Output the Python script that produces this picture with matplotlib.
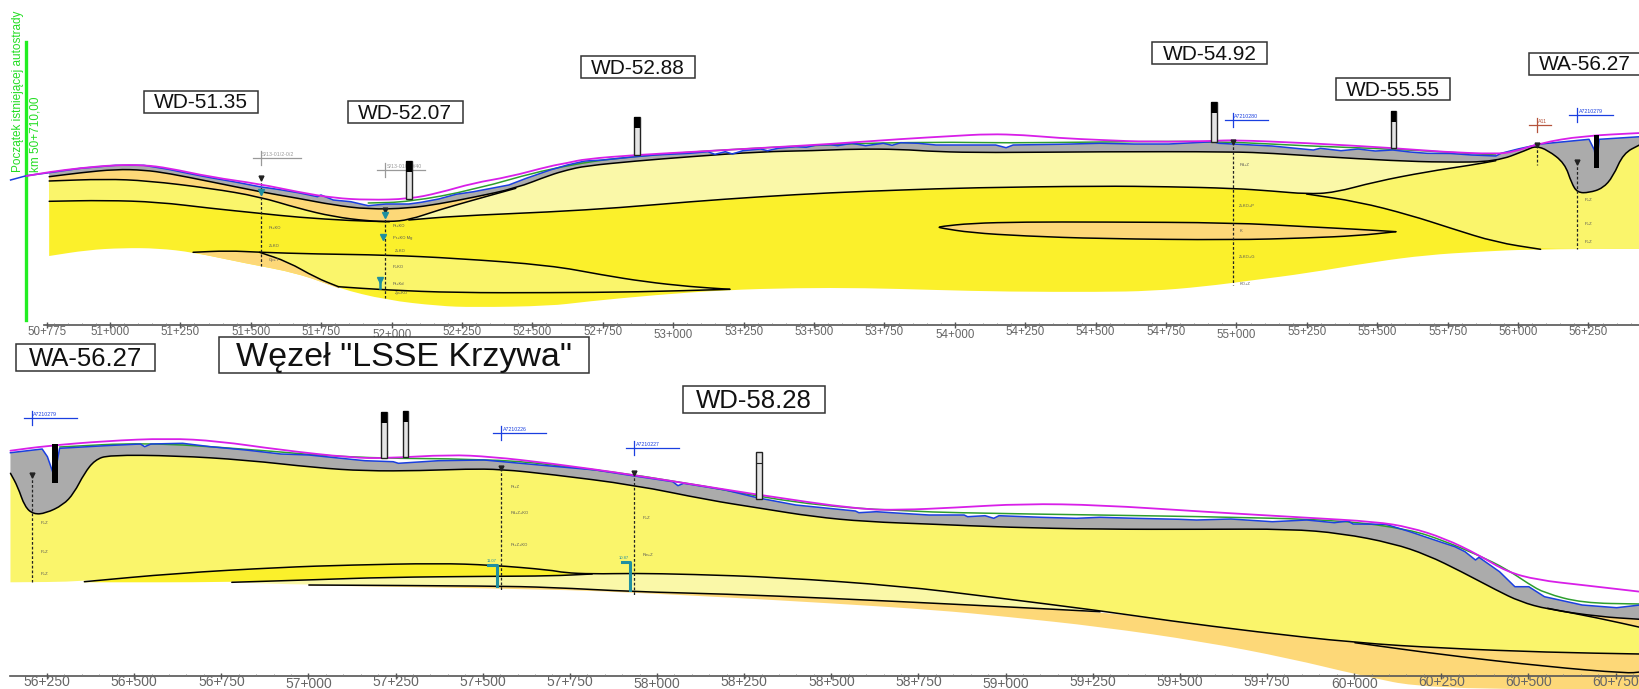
#!/usr/bin/env python3
"""Geological long section of the motorway, km 50+775 to 60+750, in two strips"""

import numpy as np
import matplotlib
matplotlib.use('Agg')
import matplotlib.pyplot as plt
from matplotlib.patches import PathPatch
from matplotlib.path import Path

plt.rcParams['font.family'] = ['Liberation Sans', 'DejaVu Sans']

BRIGHT = '#FBF02B'
MEDIUM = '#FAF56B'
PALE = '#FAF8A8'
ORANGE = '#FDD878'
GREY = '#ABABAB'
BLUE = '#1A3FE0'
GREEN = '#2E9E2E'
MAGENTA = '#D81FE8'
TEAL = '#1F8FA0'

# ---- upper strip: chainage in metres, level read as picture rows ----
TOP_DESIGN_X = [50703, 50784, 50896, 51020, 51120, 51207, 51357, 51531, 51668, 51793, 51917, 52061,
                52167, 52291, 52416, 52563, 52624, 52687, 52867, 53060, 53310, 53559, 53808, 53995,
                54120, 54244, 54369, 54516, 54698, 54919, 54986, 55249, 55555, 55738, 55921, 55983,
                56080, 56227, 56433]
TOP_DESIGN_Y = [176, 172, 168, 165, 165, 168, 177, 184, 192, 198, 200, 199,
                193, 183, 177, 166, 163, 159, 155, 152, 148, 144, 139, 136,
                134, 135, 138, 140, 142, 141, 140, 143, 148, 152, 154, 152,
                143, 136, 133]

TOP_GROUND_X = [50647, 50703, 50784, 50896, 51020, 51120, 51207, 51280, 51357, 51445, 51531, 51600, 51668, 51737, 51749,
                51793, 51855, 51917, 51980, 52061, 52105, 52167, 52229, 52291, 52416, 52478, 52563,
                52624, 52687, 52749, 52867, 52936, 53060, 53123, 53148, 53185, 53210, 53247, 53310,
                53335, 53372, 53434, 53472, 53509, 53559, 53584, 53634, 53683, 53746, 53777, 53808,
                53870, 53933, 54057, 54145, 54182, 54207, 54369, 54516, 54637, 54760, 54919, 54937,
                55127, 55200, 55273, 55298, 55371, 55432, 55493, 55555, 55616, 55677, 55760, 55836, 55921, 55940, 56000, 56080, 56252, 56271,
                56279, 56288, 56433]
TOP_GROUND_Y = [180, 175.7, 172.7, 168.3, 165.3, 165.3, 169.3, 173.5, 177.7, 182, 186.7, 189.5, 192.7, 196.7, 195,
                200, 201.7, 205.7, 204, 204, 202.3, 199, 194.3, 191.7, 185, 178.3, 170,
                165, 161, 160, 156.7, 155, 153.3, 151.7, 154.3, 151.7, 154, 150.7, 149,
                150.7, 148.3, 146.7, 147.3, 145, 144.7, 145.7, 143.3, 145.7, 143.3, 145.3, 142.7,
                143.3, 145, 145, 145, 147.7, 145, 144.3, 143.3, 144, 144, 141.7, 143.3,
                146, 148, 150, 148.3, 150.7, 149, 151, 150, 152, 153.3, 153.5, 155, 156, 153.3, 149, 144, 139.3, 150,
                166, 139.3, 136.7]

TOP_GREEN_X = [51917, 52061, 52291, 52563, 52867, 53560, 53933, 54182, 54516, 54919, 55249, 55555, 55921]
TOP_GREEN_Y = [203, 202, 190, 168, 155, 144, 142, 143, 142, 141, 146, 149, 155]

TOP_FILL_X = [50784, 50896, 51020, 51120, 51207, 51357, 51531, 51668, 51793, 51917, 52061, 52167,
              52291, 52441, 52563, 52624, 52687, 52867, 53060, 53310, 53497, 53646, 53808, 53933,
              54120, 54516, 54986, 55127, 55310, 55555, 55738, 55921, 56031, 56062, 56105, 56166,
              56190, 56211, 56252, 56301, 56337, 56374, 56433]
TOP_FILL_Y = [176.7, 172.7, 169.3, 170, 173.3, 181.7, 191.7, 198.3, 205, 209.3, 208.3, 204,
              197.3, 188.3, 175, 170, 166, 161, 156.7, 151.7, 150.7, 149, 149.3, 151.7,
              152.7, 151.7, 151.7, 153.3, 156.7, 160.7, 162.3, 161.7, 150, 146, 150, 163.3,
              183.3, 192.7, 192.7, 188.3, 176.7, 153.3, 144.7]

TOP_SAND_X = [50784, 50983, 51133, 51357, 51531, 51668, 51793, 51917, 51992, 52061, 52167, 52291, 52441]
TOP_SAND_Y = [181, 179, 180.7, 188.3, 196.7, 208.3, 216.7, 221, 221.7, 220, 210, 200, 188.3]

TOP_LEFT_LAYER_X = [50784, 50983, 51170, 51357, 51531, 51668, 51855, 51992]
TOP_LEFT_LAYER_Y = [201.3, 200.3, 202, 208.3, 213.3, 217.3, 220.7, 221.7]

TOP_PALE_X = [52061, 52229, 52563, 52811, 53060, 53310, 53559, 53808, 54057, 54516, 54760, 54986,
              55127, 55249, 55347, 55493, 55677, 55836, 55921]
TOP_PALE_Y = [220, 216, 212, 207.7, 201.7, 196.7, 192.7, 190, 187.7, 186, 186.7, 188.3,
              191, 194, 192.7, 181.7, 171.7, 165, 160.7]

TOP_RIGHT_LAYER_X = [55249, 55432, 55616, 55762, 55921, 56080, 56433]
TOP_RIGHT_LAYER_Y = [194, 201.7, 215, 228.3, 242.3, 249.3, 248.7]

TOP_BASE_X = [50784, 50921, 51045, 51170, 51295, 51481, 51668, 51811, 51980, 52167, 52291, 52563,
              52687, 52936, 53185, 53434, 53683, 53933, 54182, 54516, 54698, 54882, 55065, 55249,
              55493, 55677, 55860, 56044, 56433]
TOP_BASE_Y = [256, 250, 248, 248.3, 252.3, 263.3, 273.3, 288.3, 300, 306, 307.3, 306,
              301.7, 295, 290, 288, 288, 290, 291.7, 292, 291, 286.7, 280, 273.3,
              261.7, 255, 251.7, 249.3, 248.7]

TOP_WEDGE_UP_X = [51295, 51419, 51531, 51731, 51980, 52229, 52563, 52749, 52898, 53060, 53201]
TOP_WEDGE_UP_Y = [252.3, 250.7, 252.3, 254, 255, 258.3, 265.3, 275, 281.7, 286.7, 289.3]
TOP_WEDGE_LOW_X = [51811, 51980, 52229, 52563, 52874, 53201]
TOP_WEDGE_LOW_Y = [286.7, 290, 292.7, 292.7, 292, 289.3]
TOP_WEDGE_EDGE_X = [51531, 51631, 51731, 51811]
TOP_WEDGE_EDGE_Y = [252.3, 261.7, 277.7, 286.7]

LENS_UP_X = [53945, 53950, 54057, 54244, 54516, 54986, 55249, 55432, 55566]
LENS_UP_Y = [227.3, 226.5, 223.3, 222, 222, 222.7, 226.7, 229.3, 231.7]
LENS_LOW_X = [53945, 53950, 54057, 54244, 54516, 54986, 55249, 55432, 55566]
LENS_LOW_Y = [227.3, 228, 232.7, 236, 238.7, 240, 238, 235.7, 231.7]

# ---- lower strip ----
LOW_DESIGN_X = [56145, 56246, 56417, 56598, 56739, 56921, 57122, 57222, 57404, 57524, 57694, 57935,
                58292, 58579, 58700, 58851, 59052, 59271, 59567, 59864, 60061, 60160, 60259, 60358,
                60437, 60526, 60654, 60820]
LOW_DESIGN_Y = [450.7, 446, 441, 438.3, 441, 450, 457.7, 458.3, 454.7, 456.7, 463.3, 475,
                495, 509.3, 510, 507.7, 503.7, 505, 511.7, 517.7, 521.7, 527.3, 538.3, 555,
                571.7, 580, 585, 591.7]

LOW_GROUND_X = [56145, 56236, 56251, 56271, 56286, 56417, 56518, 56530, 56548, 56639, 56719, 56820,
                56921, 57001, 57122, 57162, 57243, 57258, 57373, 57504, 57694, 57824, 57935, 58045,
                58060, 58076, 58196, 58287, 58398, 58569, 58579, 58629, 58700, 58780, 58881, 58891,
                58941, 58966, 58981, 59102, 59203, 59271, 59370, 59498, 59548, 59646, 59765, 59864,
                59943, 59982, 59997, 60091, 60160, 60259, 60289, 60318, 60348, 60358, 60417, 60461,
                60501, 60546, 60654, 60753, 60820]
LOW_GROUND_Y = [452.7, 449, 456.7, 476.7, 448.3, 445.7, 444, 446.7, 444, 443.3, 446.7, 450,
                454, 455, 459.3, 460.7, 461.7, 463.3, 460.7, 460, 466, 470, 476, 481.7,
                485.7, 483.3, 490, 497.7, 505, 511, 512.7, 511.7, 513.3, 515, 515, 516.7,
                515.7, 518.3, 515.7, 517.3, 518.3, 517.3, 518.3, 519.3, 520, 519, 521.7, 520,
                522.7, 521, 524, 524.3, 531.7, 543.3, 546.7, 551.7, 560, 557.3, 571.7, 586.7,
                586.7, 596.7, 605, 607.7, 605]

LOW_GREEN_X = [56286, 56530, 56820, 57122, 57504, 57694, 58045, 58398, 58700, 59052, 59567, 59963, 60160, 60259,
               60358, 60437, 60501, 60546, 60654, 60820]
LOW_GREEN_Y = [447, 442.5, 449, 458, 459, 464, 480, 503.5, 511.5, 514, 516.5, 520, 529.5, 541,
               555.5, 569, 584, 593, 603, 604]

LOW_FILL_X = [56145, 56166, 56186, 56211, 56246, 56296, 56327, 56357, 56387, 56427, 56619, 56820,
              57021, 57162, 57323, 57454, 57553, 57694, 57935, 58146, 58297, 58448, 58599, 58800,
              59002, 59271, 59567, 59814, 59963, 60111, 60210, 60308, 60407, 60476, 60555, 60704,
              60820]
LOW_FILL_Y = [473.3, 486.7, 506.7, 514.3, 513.3, 505, 493.3, 473.3, 460, 455, 455.7, 460,
              467.7, 471, 470.7, 469, 469.3, 474.3, 485, 500, 508.3, 516.7, 521.7, 524.3,
              527.3, 529.3, 529.3, 529, 533.3, 543.3, 555, 571.7, 590, 601.7, 609.3, 616.7,
              619.3]

LOW_LINE_A_X = [56357, 56619, 56921, 57122, 57373, 57524, 57694, 57733, 57814, 57935, 58096, 58347,
                58700, 58951, 59271, 59469, 59716, 60002, 60259, 60555, 60820]
LOW_LINE_A_Y = [581.7, 573.3, 567.3, 565, 563.3, 565, 570, 572.7, 574, 573.3, 574.3, 577.3,
                586, 596.7, 610.7, 620.7, 631.7, 642.7, 648.3, 652.3, 654]

LOW_LINE_B_X = [56780, 57021, 57222, 57524, 57694, 57814]
LOW_LINE_B_Y = [582.3, 579.7, 577.3, 576.3, 576, 574]

LOW_LINE_C_X = [57001, 57524, 57694, 57935, 58196, 58498, 58901, 59271]
LOW_LINE_C_Y = [585, 586, 587.3, 591.7, 594, 598.3, 605, 611.7]

LOW_LINE_D_X = [60002, 60259, 60555, 60783, 60820]
LOW_LINE_D_Y = [642.7, 655, 666.7, 673.3, 672]

LOW_LINE_E_X = [60555, 60704, 60820]
LOW_LINE_E_Y = [608.3, 618.3, 627.3]

LOW_SAND_BASE_X = [57001, 57693, 57935, 58196, 58498, 58800, 59002, 59271, 59567, 59814, 60012, 60210, 60820]
LOW_SAND_BASE_Y = [585.5, 589.3, 592.7, 597.3, 603.3, 610, 616.7, 626.7, 641.7, 658.3, 675, 689, 689]

# ---- things along the section ----
TOP_TICKS = [50775, 51000, 51250, 51500, 51750, 52000, 52250, 52500, 52750, 53000, 53250, 53500,
             53750, 54000, 54250, 54500, 54750, 55000, 55250, 55500, 55750, 56000, 56250]
TOP_TICK_LABELS = ['50+775', '51+000', '51+250', '51+500', '51+750', '52+000', '52+250', '52+500',
                   '52+750', '53+000', '53+250', '53+500', '53+750', '54+000', '54+250', '54+500',
                   '54+750', '55+000', '55+250', '55+500', '55+750', '56+000', '56+250']
TOP_LOW_LABELS = ['52+000', '53+000', '54+000', '55+000']

LOW_TICKS = [56250, 56500, 56750, 57000, 57250, 57500, 57750, 58000, 58250, 58500, 58750, 59000,
             59250, 59500, 59750, 60000, 60250, 60500, 60750]
LOW_TICK_LABELS = ['56+250', '56+500', '56+750', '57+000', '57+250', '57+500', '57+750', '58+000',
                   '58+250', '58+500', '58+750', '59+000', '59+250', '59+500', '59+750', '60+000',
                   '60+250', '60+500', '60+750']
LOW_LOW_LABELS = ['57+000', '58+000', '59+000', '60+000']

TOP_BOX_NAMES = ['WD-51.35', 'WD-52.07', 'WD-52.88', 'WD-54.92', 'WD-55.55', 'WA-56.27']
TOP_BOX_X = [51323, 52048, 52875, 54904, 55556, 56238]
TOP_BOX_Y = [103, 113.7, 68, 54, 90, 65]

LOW_BOX_NAMES = ['WA-56.27', 'WD-58.28']
LOW_BOX_X = [56359, 58278]
LOW_BOX_Y = [359, 401]

TOP_POLES_X = [52061, 52872, 54921, 55558]
TOP_POLES_TOP = [161, 117.3, 102.3, 110.7]
TOP_POLES_FOOT = [199, 155, 141.7, 148.3]
LOW_POLES_X = [57216, 57278, 58293]
LOW_POLES_TOP = [411.7, 410.7, 451.7]
LOW_POLES_FOOT = [457.7, 457.3, 499.3]

TOP_HOLES_X = [51535, 51976, 54986, 56066, 56211]
TOP_HOLES_TOP = [178.3, 210, 141.7, 145, 161.7]
TOP_HOLES_FOOT = [265.7, 298.3, 285, 165, 249.3]
LOW_HOLES_X = [56206, 57553, 57935]
LOW_HOLES_TOP = [475, 468.3, 472.7]
LOW_HOLES_FOOT = [582.3, 590, 595]

TOP_WATER_X = [51535, 51976, 51968, 51958]
TOP_WATER_Y = [192, 215, 237, 280]

TOP_MARK_X = [51535, 51976, 54986, 56066, 56211]
TOP_MARK_Y = [157.5, 170, 120, 125, 115]
TOP_MARK_NAMES = ['S/13-01/2-0/2', 'S/13-01/2-0/40', 'A7210280', 'A11', 'A7210279']
TOP_MARK_COLORS = ['#999999', '#999999', BLUE, '#B5533C', BLUE]
TOP_MARK_RIGHT = [40, 40, 36, 14, 36]

LOW_MARK_X = [56206, 57553, 57935]
LOW_MARK_Y = [417.5, 432.5, 447.5]
LOW_MARK_NAMES = ['A7210279', 'A7210226', 'A7210227']

TOP_SOILS = ['Pr+KO', 'Z+KO', 'Gp+T', 'Pr+KO', 'Pr+KO Mg', 'Z+KO', 'P+KO', 'Pr+Kd', 'Zp+KO', 'Pd+Z',
             'Z+KO+P', 'K', 'Z+KO+G', 'KO+Z', 'P+Z', 'P+Z', 'P+Z']
TOP_SOILS_X = [51565, 51565, 51565, 52005, 52005, 52010, 52005, 52005, 52010, 55010,
               55010, 55010, 55010, 55010, 56235, 56235, 56235]
TOP_SOILS_Y = [227.7, 246.3, 260, 226, 237.7, 250.7, 267.3, 284.3, 292.7, 165,
               206, 231, 256.7, 284, 200.3, 224.3, 242.3]

LOW_SOILS = ['P+Z', 'P+Z', 'P+Z', 'Pr+Z', 'Pd+Z+KO', 'Pr+Z+KO', 'P+Z', 'Pw+Z']
LOW_SOILS_X = [56232, 56232, 56232, 57580, 57580, 57580, 57960, 57960]
LOW_SOILS_Y = [523, 552.3, 574.3, 486.7, 513.3, 545, 517.7, 555]


def curve_parts(x, y):
    """Path vertices and codes that use the read points as quadratic control points"""
    pts = np.column_stack([x, y])
    n = len(pts)
    if n < 3:
        return list(pts), [Path.MOVETO] + [Path.LINETO] * (n - 1)
    mids = (pts[:-1] + pts[1:]) / 2
    verts = [pts[0], mids[0]]
    codes = [Path.MOVETO, Path.LINETO]
    for i in range(1, n - 1):
        verts += [pts[i], mids[i]]
        codes += [Path.CURVE3, Path.CURVE3]
    verts.append(pts[-1])
    codes.append(Path.LINETO)
    return verts, codes


def band(ax, x_top, y_top, x_low, y_low, color, zorder=1, raw_top=False):
    """Fill the layer between an upper and a lower boundary"""
    if raw_top:
        v1 = list(np.column_stack([x_top, y_top]))
        c1 = [Path.MOVETO] + [Path.LINETO] * (len(v1) - 1)
    else:
        v1, c1 = curve_parts(x_top, y_top)
    v2, c2 = curve_parts(np.asarray(x_low)[::-1], np.asarray(y_low)[::-1])
    c2 = [Path.LINETO] + c2[1:]
    verts = v1 + v2 + [v1[0]]
    codes = c1 + c2 + [Path.CLOSEPOLY]
    ax.add_patch(PathPatch(Path(verts, codes), fc=color, lw=0, zorder=zorder))


def span(x, y, start, stop):
    """Part of a curve between two chainages"""
    x = np.asarray(x)
    y = np.asarray(y)
    keep = (x >= start) & (x <= stop)
    return x[keep], y[keep]


def curve_line(ax, x, y, color='black', lw=1.1, zorder=4):
    verts, codes = curve_parts(x, y)
    ax.add_patch(PathPatch(Path(verts, codes), fc='none', ec=color, lw=lw, zorder=zorder, capstyle='round'))


def surface_lines(ax, design_x, design_y, ground_x, ground_y, green_x, green_y):
    curve_line(ax, green_x, green_y, GREEN, 1.1, 5)
    ax.plot(ground_x, ground_y, color=BLUE, lw=1.1, zorder=6)
    curve_line(ax, design_x, design_y, MAGENTA, 1.3, 7)


def poles(ax, x, top, foot, width, black_cap=True):
    top = np.asarray(top)
    foot = np.asarray(foot)
    ax.bar(x, foot - top, bottom=top, width=width, color='#E4E4E4', edgecolor='#222222', lw=1, zorder=8)
    if black_cap:
        ax.bar(x, np.full(len(top), 11.0), bottom=top, width=width, color='black', lw=0, zorder=9)


def holes(ax, x, top, foot):
    ax.vlines(x, top, foot, colors='#222222', linestyles=(0, (2.2, 1.6)), lw=0.9, zorder=6)
    ax.plot(x, top, 'v', color='#222222', ms=3.5, zorder=7, ls='none')


def survey_marks(ax, x, y, names, colors, right, m_per_px):
    for xi, yi, name, col, r in zip(x, y, names, colors, right):
        ax.plot([xi, xi], [yi - 7, yi + 7], color=col, lw=0.9, zorder=6)
        ax.plot([xi - 8 * m_per_px, xi + r * m_per_px], [yi, yi], color=col, lw=0.9, zorder=6)
        ax.text(xi + 1.5 * m_per_px, yi - 0.8, name, color=col, fontsize=3.8, va='bottom', ha='left', zorder=6)


def wide_box(x0, y0, width, height, mutation_size):
    """Label frame: wide at the sides, tight below the text, a bit more room above"""
    pad_x = 0.5 * mutation_size
    x0, x1 = x0 - pad_x, x0 + width + pad_x
    y0, y1 = y0 - 0.01 * mutation_size, y0 + height + 0.13 * mutation_size
    return Path([(x0, y0), (x1, y0), (x1, y1), (x0, y1), (x0, y0)], closed=True)


def boxes(ax, x, y, names, size):
    for xi, yi, name in zip(x, y, names):
        ax.text(xi, yi, name, fontsize=size, ha='center', va='center', color='#111111', zorder=10,
                bbox=dict(boxstyle=wide_box, fc='white', ec='#333333', lw=1.1))


def station_axis(ax, ticks, labels, low_labels, axis_y, start, size, pads):
    stop = ax.get_xlim()[1]
    ax.set_axisbelow(False)
    ax.spines['bottom'].set_position(('data', axis_y))
    ax.spines['bottom'].set_bounds(start, stop)
    ax.spines['bottom'].set_color('#555555')
    ax.spines['bottom'].set_linewidth(1.2)
    ax.set_xticks(ticks)
    ax.set_xticklabels(labels, fontsize=size, color='#666666')
    ax.set_xticks(np.arange(ticks[0] - ticks[0] % 50 + 50, stop, 50), minor=True)
    ax.tick_params(axis='x', which='major', direction='inout', length=4, width=1, color='#555555')
    ax.tick_params(axis='x', which='minor', direction='in', length=1.5, width=0.6, color='#777777')
    for tick, label in zip(ax.xaxis.get_major_ticks(), labels):
        tick.set_pad(pads[1] if label in low_labels else pads[0])


def draw_upper(ax):
    ax.set_xlim(50609.4, 56433)
    ax.set_ylim(340, 0)

    # layers, back to front
    band(ax, TOP_FILL_X, TOP_FILL_Y, TOP_BASE_X, TOP_BASE_Y, BRIGHT)

    sx, sy = span(TOP_SAND_X, TOP_SAND_Y, 50784, 51992)
    band(ax, sx, sy, TOP_LEFT_LAYER_X, TOP_LEFT_LAYER_Y, MEDIUM, 2)

    fx, fy = span(TOP_FILL_X, TOP_FILL_Y, 52061, 55921)
    band(ax, fx, fy, TOP_PALE_X, TOP_PALE_Y, PALE, 2)

    bx, by = span(TOP_PALE_X, TOP_PALE_Y, 55249, 55921)
    fx, fy = span(TOP_FILL_X, TOP_FILL_Y, 55922, 56433)
    band(ax, np.r_[bx, fx], np.r_[by, fy], TOP_RIGHT_LAYER_X, TOP_RIGHT_LAYER_Y, MEDIUM, 2)

    fx, fy = span(TOP_FILL_X, TOP_FILL_Y, 50784, 52441)
    band(ax, fx, fy, TOP_SAND_X, TOP_SAND_Y, ORANGE, 3)

    band(ax, TOP_WEDGE_UP_X[2:], TOP_WEDGE_UP_Y[2:], TOP_WEDGE_EDGE_X + TOP_WEDGE_LOW_X[1:],
         TOP_WEDGE_EDGE_Y + TOP_WEDGE_LOW_Y[1:], MEDIUM, 2)
    bx, by = span(TOP_BASE_X, TOP_BASE_Y, 51295, 51811)
    band(ax, TOP_WEDGE_UP_X[:3] + TOP_WEDGE_EDGE_X[1:], TOP_WEDGE_UP_Y[:3] + TOP_WEDGE_EDGE_Y[1:], bx, by, ORANGE, 2)
    band(ax, LENS_UP_X, LENS_UP_Y, LENS_LOW_X, LENS_LOW_Y, ORANGE, 2)

    gx, gy = span(TOP_GROUND_X, TOP_GROUND_Y, 50784, 56433)
    band(ax, gx, gy, TOP_FILL_X, TOP_FILL_Y, GREY, 3, raw_top=True)

    curve_line(ax, TOP_FILL_X, TOP_FILL_Y)
    curve_line(ax, TOP_SAND_X, TOP_SAND_Y)
    curve_line(ax, TOP_LEFT_LAYER_X, TOP_LEFT_LAYER_Y)
    curve_line(ax, TOP_PALE_X, TOP_PALE_Y)
    curve_line(ax, TOP_RIGHT_LAYER_X[:-1], TOP_RIGHT_LAYER_Y[:-1])
    curve_line(ax, TOP_WEDGE_UP_X, TOP_WEDGE_UP_Y)
    curve_line(ax, TOP_WEDGE_LOW_X, TOP_WEDGE_LOW_Y)
    curve_line(ax, TOP_WEDGE_EDGE_X, TOP_WEDGE_EDGE_Y)
    curve_line(ax, LENS_UP_X, LENS_UP_Y)
    curve_line(ax, LENS_LOW_X, LENS_LOW_Y)

    surface_lines(ax, TOP_DESIGN_X, TOP_DESIGN_Y, TOP_GROUND_X, TOP_GROUND_Y, TOP_GREEN_X, TOP_GREEN_Y)

    poles(ax, TOP_POLES_X, TOP_POLES_TOP, TOP_POLES_FOOT, 20)
    ax.bar([56279], [33], bottom=[135], width=20, color='black', lw=0, zorder=9)
    holes(ax, TOP_HOLES_X, TOP_HOLES_TOP, TOP_HOLES_FOOT)
    ax.plot(TOP_WATER_X, TOP_WATER_Y, 'v', color=TEAL, ms=4, ls='none', zorder=7)
    ax.plot([51958, 51958], [280, 288], color=TEAL, lw=1.8, zorder=7)
    survey_marks(ax, TOP_MARK_X, TOP_MARK_Y, TOP_MARK_NAMES, TOP_MARK_COLORS, TOP_MARK_RIGHT, 3.55)
    for name, x, y in zip(TOP_SOILS, TOP_SOILS_X, TOP_SOILS_Y):
        ax.text(x, y, name, fontsize=3, color='#555555', va='center', zorder=7)

    boxes(ax, TOP_BOX_X, TOP_BOX_Y, TOP_BOX_NAMES, 15)

    # start of the existing motorway
    ax.plot([50703, 50703], [42, 320], color='#22EE22', lw=2.4, zorder=5)
    ax.text(50672, 172, 'Początek istniejącej autostrady', rotation=90, color='#22DD22', fontsize=8.5,
            ha='center', va='bottom')
    ax.text(50737, 172, 'km 50+710,00', rotation=90, color='#22DD22', fontsize=8.5, ha='center', va='bottom')

    station_axis(ax, TOP_TICKS, TOP_TICK_LABELS, TOP_LOW_LABELS, 324.7, 50765, 8.3, (-0.8, 0.8))


def draw_lower(ax):
    ax.set_xlim(56115, 60820)
    ax.set_ylim(689, 340)

    # medium yellow body reaches the flat bottom of the section on the left
    body_x = [56145] + LOW_LINE_A_X
    body_y = [582.3] + LOW_LINE_A_Y
    band(ax, LOW_FILL_X, LOW_FILL_Y, body_x, body_y, MEDIUM)

    ax_low_x = [56357] + LOW_LINE_B_X
    ax_low_y = [582.3] + LOW_LINE_B_Y
    ux, uy = span(LOW_LINE_A_X, LOW_LINE_A_Y, 56357, 57814)
    band(ax, ux, uy, ax_low_x, ax_low_y, BRIGHT, 2)

    ux, uy = span(LOW_LINE_A_X, LOW_LINE_A_Y, 57815, 59271)
    band(ax, LOW_LINE_B_X + list(ux), LOW_LINE_B_Y + list(uy), [56780] + LOW_LINE_C_X, [582.3] + LOW_LINE_C_Y, PALE, 2)

    ux, uy = span(LOW_LINE_A_X, LOW_LINE_A_Y, 59272, 60820)
    band(ax, LOW_LINE_C_X + list(ux), LOW_LINE_C_Y + list(uy), LOW_SAND_BASE_X, LOW_SAND_BASE_Y, ORANGE, 2)

    fx, fy = span(LOW_FILL_X, LOW_FILL_Y, 60555, 60820)
    band(ax, fx, fy, LOW_LINE_E_X, LOW_LINE_E_Y, ORANGE, 2)

    band(ax, LOW_GROUND_X, LOW_GROUND_Y, LOW_FILL_X, LOW_FILL_Y, GREY, 3, raw_top=True)

    curve_line(ax, LOW_FILL_X, LOW_FILL_Y)
    curve_line(ax, LOW_LINE_A_X, LOW_LINE_A_Y)
    curve_line(ax, LOW_LINE_B_X, LOW_LINE_B_Y)
    curve_line(ax, LOW_LINE_C_X, LOW_LINE_C_Y)
    curve_line(ax, LOW_LINE_D_X, LOW_LINE_D_Y)
    curve_line(ax, LOW_LINE_E_X, LOW_LINE_E_Y)

    surface_lines(ax, LOW_DESIGN_X, LOW_DESIGN_Y, LOW_GROUND_X, LOW_GROUND_Y, LOW_GREEN_X, LOW_GREEN_Y)

    poles(ax, LOW_POLES_X[:2], LOW_POLES_TOP[:2], LOW_POLES_FOOT[:2], 16)
    poles(ax, LOW_POLES_X[2:], LOW_POLES_TOP[2:], LOW_POLES_FOOT[2:], 16, black_cap=False)
    ax.plot([58293 - 6, 58293 + 6], [463.3, 463.3], color='#222222', lw=0.8, zorder=10)
    ax.bar([56273], [39], bottom=[444], width=16, color='black', lw=0, zorder=9)

    holes(ax, LOW_HOLES_X, LOW_HOLES_TOP, LOW_HOLES_FOOT)
    ax.plot([57514, 57540, 57540], [565, 565, 586], color=TEAL, lw=2.2, zorder=7)
    ax.plot([57899, 57921, 57921], [562, 562, 590], color=TEAL, lw=2.2, zorder=7)
    ax.text(57525, 561.5, '11.07', fontsize=3, color=TEAL, ha='center', zorder=7)
    ax.text(57905, 558.5, '10.87', fontsize=3, color=TEAL, ha='center', zorder=7)

    survey_marks(ax, LOW_MARK_X, LOW_MARK_Y, LOW_MARK_NAMES, [BLUE] * 3, [45] * 3, 2.87)
    for name, x, y in zip(LOW_SOILS, LOW_SOILS_X, LOW_SOILS_Y):
        ax.text(x, y, name, fontsize=3, color='#555555', va='center', zorder=7)

    boxes(ax, LOW_BOX_X, LOW_BOX_Y, LOW_BOX_NAMES, 18.5)
    boxes(ax, [57274], [357], ['Węzeł "LSSE Krzywa"'], 24.5)

    station_axis(ax, LOW_TICKS, LOW_TICK_LABELS, LOW_LOW_LABELS, 675.7, 56145, 10, (-2.2, -1))


def main():
    fig = plt.figure(figsize=(16.4, 6.89), dpi=100)
    ax_top = fig.add_axes([0, 349 / 689, 1, 340 / 689])
    ax_low = fig.add_axes([0, 0, 1, 349 / 689])

    for ax in (ax_top, ax_low):
        ax.set_facecolor('none')
        ax.set_yticks([])
        for side in ('top', 'left', 'right'):
            ax.spines[side].set_visible(False)

    draw_upper(ax_top)
    draw_lower(ax_low)

    fig.savefig('out.png', dpi=100)


if __name__ == '__main__':
    main()
